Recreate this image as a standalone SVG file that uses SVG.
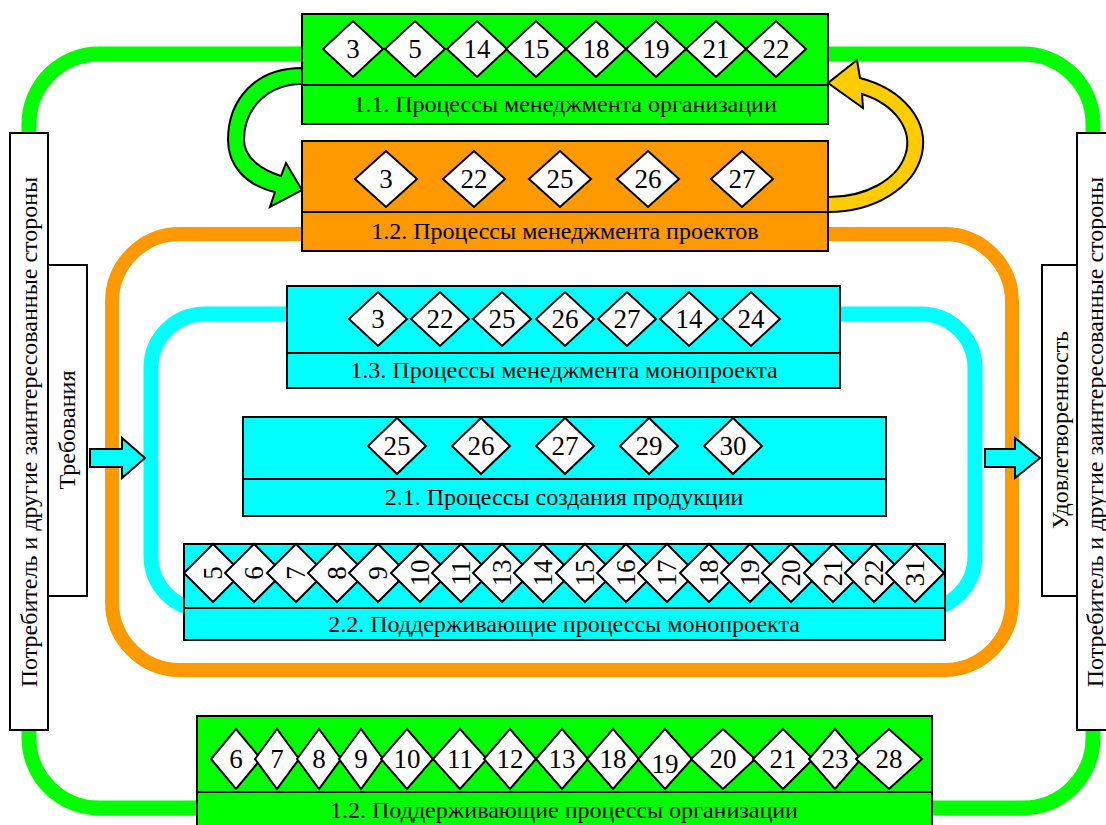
<svg xmlns="http://www.w3.org/2000/svg" width="1106" height="825" viewBox="0 0 1106 825">
<style>
text{font-family:"Liberation Serif","Times New Roman",serif;font-size:24px;fill:#000;text-anchor:middle;dominant-baseline:central}
.n text{font-size:27px}
.box{stroke:#000;stroke-width:2}
.g{fill:#00FF00}.o{fill:#FF9900}.c{fill:#00FFFF}
.d{fill:#fff;stroke:#000;stroke-width:2}
.bar{fill:#fff;stroke:#000;stroke-width:2}
.loop{fill:none}
</style>
<rect width="1106" height="825" fill="#fff"/>
<g id="connectors">
  <path class="loop" d="M302,54 H99 A70 70 0 0 0 29,124 V133 M29,730 V738 A70 70 0 0 0 99,808 H197 M828,54 H1023 A70 70 0 0 1 1093,124 V133 M1093,730 V738 A70 70 0 0 1 1023,808 H932" stroke="#00FF00" stroke-width="15"/>
  <path class="loop" d="M302,234 H180 A68 68 0 0 0 112,302 V602 A68 68 0 0 0 180,670 H944 A68 68 0 0 0 1012,602 V302 A68 68 0 0 0 944,234 H828" stroke="#FF9900" stroke-width="14"/>
  <path class="loop" d="M287,314 H205 A54 54 0 0 0 151,368 V556 A54 54 0 0 0 205,610 H921 A54 54 0 0 0 975,556 V368 A54 54 0 0 0 921,314 H840" stroke="#00FFFF" stroke-width="15"/>
</g>
<g id="node-1-1" class="n">
  <rect class="box g" x="302" y="14" width="526" height="110"/>
  <line x1="302" y1="85" x2="828" y2="85" stroke="#000" stroke-width="2"/>
  <polygon class="d" points="323,49 353,21 383,49 353,77"/><text x="353" y="49">3</text>
  <polygon class="d" points="385,49 415,21 445,49 415,77"/><text x="415" y="49">5</text>
  <polygon class="d" points="447,49 477,21 507,49 477,77"/><text x="477" y="49">14</text>
  <polygon class="d" points="506,49 536,21 566,49 536,77"/><text x="536" y="49">15</text>
  <polygon class="d" points="566,49 596,21 626,49 596,77"/><text x="596" y="49">18</text>
  <polygon class="d" points="626,49 656,21 686,49 656,77"/><text x="656" y="49">19</text>
  <polygon class="d" points="686,49 716,21 746,49 716,77"/><text x="716" y="49">21</text>
  <polygon class="d" points="746,49 776,21 806,49 776,77"/><text x="776" y="49">22</text>
  <text x="565" y="104" style="font-size:24px">1.1. Процессы менеджмента организации</text>
</g>
<g id="node-1-2" class="n">
  <rect class="box o" x="302" y="141" width="526" height="110"/>
  <line x1="302" y1="212" x2="828" y2="212" stroke="#000" stroke-width="2"/>
  <polygon class="d" points="355,179 386,151 417,179 386,207"/><text x="386" y="179">3</text>
  <polygon class="d" points="443,179 474,151 505,179 474,207"/><text x="474" y="179">22</text>
  <polygon class="d" points="529,179 560,151 591,179 560,207"/><text x="560" y="179">25</text>
  <polygon class="d" points="617,179 648,151 679,179 648,207"/><text x="648" y="179">26</text>
  <polygon class="d" points="711,179 742,151 773,179 742,207"/><text x="742" y="179">27</text>
  <text x="565" y="231" style="font-size:24px">1.2. Процессы менеджмента проектов</text>
</g>
<g id="node-1-3" class="n">
  <rect class="box c" x="287" y="286" width="553" height="102"/>
  <line x1="287" y1="353" x2="840" y2="353" stroke="#000" stroke-width="2"/>
  <polygon class="d" points="349,319 378,292 407,319 378,346"/><text x="378" y="319">3</text>
  <polygon class="d" points="411,319 440,292 469,319 440,346"/><text x="440" y="319">22</text>
  <polygon class="d" points="473,319 502,292 531,319 502,346"/><text x="502" y="319">25</text>
  <polygon class="d" points="536,319 565,292 594,319 565,346"/><text x="565" y="319">26</text>
  <polygon class="d" points="598,319 627,292 656,319 627,346"/><text x="627" y="319">27</text>
  <polygon class="d" points="660,319 689,292 718,319 689,346"/><text x="689" y="319">14</text>
  <polygon class="d" points="722,319 751,292 780,319 751,346"/><text x="751" y="319">24</text>
  <text x="564" y="370" style="font-size:24px">1.3. Процессы менеджмента монопроекта</text>
</g>
<g id="node-2-1" class="n">
  <rect class="box c" x="243" y="417" width="643" height="99"/>
  <line x1="243" y1="479" x2="886" y2="479" stroke="#000" stroke-width="2"/>
  <polygon class="d" points="368,446 397,418 426,446 397,474"/><text x="397" y="446">25</text>
  <polygon class="d" points="452,446 481,418 510,446 481,474"/><text x="481" y="446">26</text>
  <polygon class="d" points="536,446 565,418 594,446 565,474"/><text x="565" y="446">27</text>
  <polygon class="d" points="620,446 649,418 678,446 649,474"/><text x="649" y="446">29</text>
  <polygon class="d" points="704,446 733,418 762,446 733,474"/><text x="733" y="446">30</text>
  <text x="564" y="497" style="font-size:24px">2.1. Процессы создания продукции</text>
</g>
<g id="node-2-2" class="n">
  <rect class="box c" x="184" y="544" width="761" height="96"/>
  <line x1="184" y1="608" x2="945" y2="608" stroke="#000" stroke-width="2"/>
  <polygon class="d" points="184,573 213,544 242,573 213,602"/><text x="213" y="573" transform="rotate(-90 213 573)">5</text>
  <polygon class="d" points="225,573 254,544 283,573 254,602"/><text x="254" y="573" transform="rotate(-90 254 573)">6</text>
  <polygon class="d" points="267,573 296,544 325,573 296,602"/><text x="296" y="573" transform="rotate(-90 296 573)">7</text>
  <polygon class="d" points="308,573 337,544 366,573 337,602"/><text x="337" y="573" transform="rotate(-90 337 573)">8</text>
  <polygon class="d" points="349,573 378,544 407,573 378,602"/><text x="378" y="573" transform="rotate(-90 378 573)">9</text>
  <polygon class="d" points="391,573 420,544 449,573 420,602"/><text x="420" y="573" transform="rotate(-90 420 573)">10</text>
  <polygon class="d" points="432,573 461,544 490,573 461,602"/><text x="461" y="573" transform="rotate(-90 461 573)">11</text>
  <polygon class="d" points="473,573 502,544 531,573 502,602"/><text x="502" y="573" transform="rotate(-90 502 573)">13</text>
  <polygon class="d" points="514,573 543,544 572,573 543,602"/><text x="543" y="573" transform="rotate(-90 543 573)">14</text>
  <polygon class="d" points="556,573 585,544 614,573 585,602"/><text x="585" y="573" transform="rotate(-90 585 573)">15</text>
  <polygon class="d" points="597,573 626,544 655,573 626,602"/><text x="626" y="573" transform="rotate(-90 626 573)">16</text>
  <polygon class="d" points="638,573 667,544 696,573 667,602"/><text x="667" y="573" transform="rotate(-90 667 573)">17</text>
  <polygon class="d" points="680,573 709,544 738,573 709,602"/><text x="709" y="573" transform="rotate(-90 709 573)">18</text>
  <polygon class="d" points="721,573 750,544 779,573 750,602"/><text x="750" y="573" transform="rotate(-90 750 573)">19</text>
  <polygon class="d" points="762,573 791,544 820,573 791,602"/><text x="791" y="573" transform="rotate(-90 791 573)">20</text>
  <polygon class="d" points="804,573 833,544 862,573 833,602"/><text x="833" y="573" transform="rotate(-90 833 573)">21</text>
  <polygon class="d" points="845,573 874,544 903,573 874,602"/><text x="874" y="573" transform="rotate(-90 874 573)">22</text>
  <polygon class="d" points="886,573 915,544 944,573 915,602"/><text x="915" y="573" transform="rotate(-90 915 573)">31</text>
  <text x="564" y="624" style="font-size:24px">2.2. Поддерживающие процессы монопроекта</text>
</g>
<g id="node-org-support" class="n">
  <rect class="box g" x="197" y="716" width="735" height="120"/>
  <line x1="197" y1="792" x2="932" y2="792" stroke="#000" stroke-width="2"/>
  <polygon class="d" points="211,759 236,729 261,759 236,789"/><text x="236" y="759">6</text>
  <polygon class="d" points="255,759 277,729 299,759 277,789"/><text x="277" y="759">7</text>
  <polygon class="d" points="297,759 319,729 341,759 319,789"/><text x="319" y="759">8</text>
  <polygon class="d" points="339,759 361,729 383,759 361,789"/><text x="361" y="759">9</text>
  <polygon class="d" points="381,759 407,729 433,759 407,789"/><text x="407" y="759">10</text>
  <polygon class="d" points="433,759 460,729 487,759 460,789"/><text x="460" y="759">11</text>
  <polygon class="d" points="484,759 510,729 536,759 510,789"/><text x="510" y="759">12</text>
  <polygon class="d" points="536,759 562,729 588,759 562,789"/><text x="562" y="759">13</text>
  <polygon class="d" points="587,759 613,729 639,759 613,789"/><text x="613" y="759">18</text>
  <polygon class="d" points="638,759 665,729 692,759 665,789"/><text x="665" y="764">19</text>
  <polygon class="d" points="691,759 723,729 755,759 723,789"/><text x="723" y="759">20</text>
  <polygon class="d" points="753,759 783,729 813,759 783,789"/><text x="783" y="759">21</text>
  <polygon class="d" points="809,759 835,729 861,759 835,789"/><text x="835" y="759">23</text>
  <polygon class="d" points="856,759 889,729 922,759 889,789"/><text x="889" y="759">28</text>
  <text x="564" y="810" style="font-size:24px">1.2. Поддерживающие процессы организации</text>
</g>
<g id="arrows">
  <polygon points="90,449 122,449 122,438 145,458 122,478 122,467 90,467" fill="#00FFFF" stroke="#000" stroke-width="2"/>
  <polygon points="985,449 1015,449 1015,438 1040,458 1015,478 1015,467 985,467" fill="#00FFFF" stroke="#000" stroke-width="2"/>
  <path d="M302,68 C255,68 228,100 228,140 C228,165 245,185 275,192 L270,207 L302,190 L286,163 L281,176 C262,170 244,158 244,140 C244,108 268,84 302,84 Z" fill="#00FF00" stroke="#000" stroke-width="2"/>
  <path d="M828,212 A95 69 0 0 0 860,78 L857,60 L828,83 L863,108 L862,94 A78 54 0 0 1 828,197 Z" fill="#FFCC00" stroke="#000" stroke-width="2"/>
</g>
<g id="stakeholders-left">
  <rect class="bar" x="10" y="133" width="38" height="597"/>
  <text x="29" y="432" transform="rotate(-90 29 432)">Потребитель и другие заинтересованные стороны</text>
</g>
<g id="requirements">
  <rect class="bar" x="48" y="265" width="39" height="331"/>
  <text x="67" y="430" transform="rotate(-90 67 430)">Требования</text>
</g>
<g id="stakeholders-right">
  <rect class="bar" x="1077" y="133" width="40" height="597"/>
  <text x="1095" y="432" transform="rotate(-90 1095 432)">Потребитель и другие заинтересованные стороны</text>
</g>
<g id="satisfaction">
  <rect class="bar" x="1042" y="265" width="35" height="331"/>
  <text x="1060" y="430" transform="rotate(-90 1060 430)">Удовлетворенность</text>
</g>
</svg>
